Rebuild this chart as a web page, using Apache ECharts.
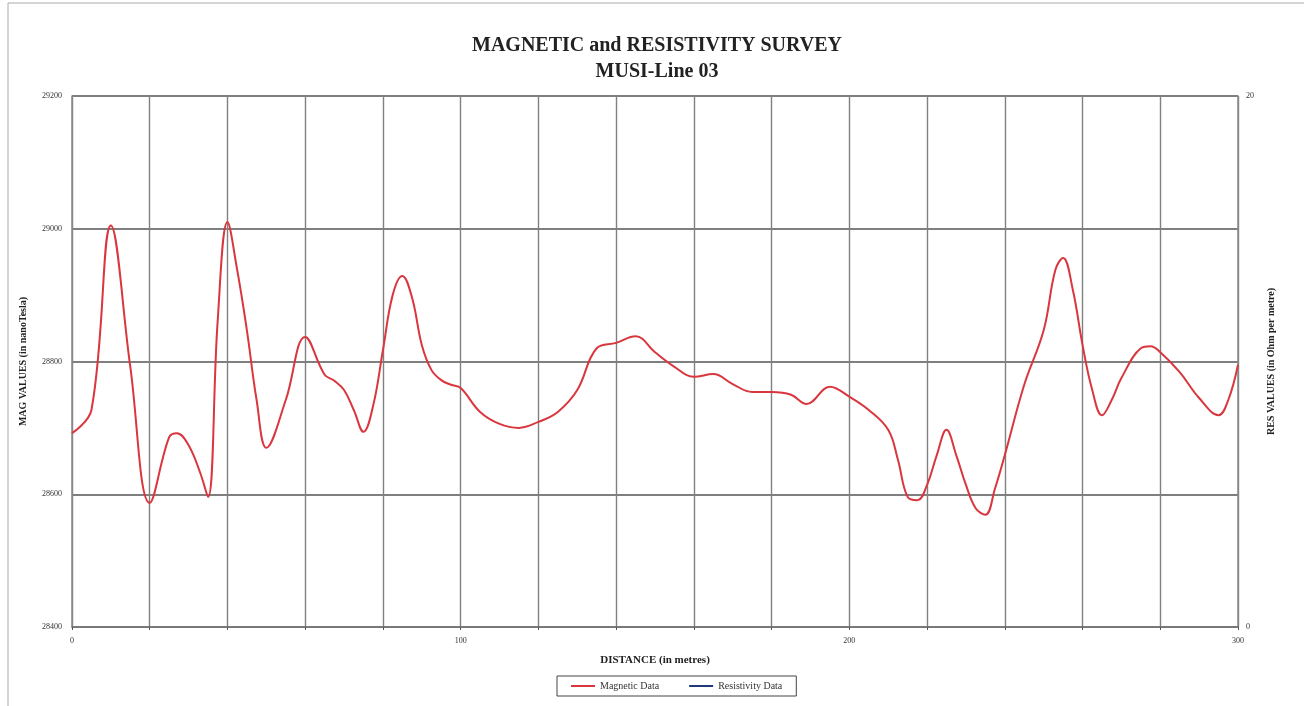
<!DOCTYPE html>
<html lang="en">
<head>
    <meta charset="UTF-8">
    <title>MUSI-Line 03</title>
    <script src="https://cdn.jsdelivr.net/npm/echarts@6.0.0/dist/echarts.min.js"></script>
    <style>
        body { margin: 0; background: #fff; }
    </style>
</head>
<body>
    <div id="chart" style="width: 1304px; height: 706px;"></div>
    <script>
        // distance along the line (m)
        const distance = [
            0, 5, 10, 15, 20, 25, 27, 30, 33, 35, 37.5, 40, 42.5, 45, 47.5, 50,
            55, 60, 65, 67.5, 70, 72.5, 75, 77.5, 80, 82.5, 85, 87.5, 90, 92.5, 95, 97.5,
            100, 105, 110, 115, 120, 125, 130, 135, 140, 145, 150, 155, 160, 165, 170,
            175, 180, 185, 189, 195, 200, 205, 210, 212.5, 215, 217.5, 220, 222.5, 225,
            227.5, 230, 232.5, 235, 237.5, 240, 245, 250, 253, 255, 257.5, 260, 262.5,
            265, 267.5, 270, 275, 277.5, 280, 285, 290, 295, 297.5, 300
        ];
        // magnetic readings (nT)
        const magValues = [
            28692, 28727, 29005, 28792, 28587, 28686, 28692, 28674, 28632, 28596, 28863, 29010, 28938, 28847, 28742, 28670,
            28742, 28837, 28780, 28771, 28757, 28727, 28694, 28734, 28817, 28900, 28929, 28896, 28825, 28787, 28772, 28765,
            28760, 28724, 28706, 28700, 28709, 28724, 28757, 28820, 28828, 28838, 28814, 28792, 28777, 28781, 28766,
            28754, 28754, 28750, 28736, 28762, 28747, 28727, 28697, 28652, 28596, 28591, 28614, 28659, 28697,
            28659, 28614, 28579, 28569, 28609, 28659, 28765, 28847, 28938, 28956, 28908, 28825, 28757,
            28719, 28742, 28775, 28820, 28823, 28814, 28784, 28745, 28719, 28742, 28795
        ];
        // no resistivity readings plotted on this line
        const resValues = [];

        const magData = distance.map((d, i) => [d, magValues[i]]);

        const myChart = echarts.init(document.getElementById('chart'));
        const serif = '"Liberation Serif", "DejaVu Serif", serif';

        let option = {
            animation: false,
            backgroundColor: '#fff',
            title: {
                text: 'MAGNETIC and RESISTIVITY SURVEY\nMUSI-Line 03',
                left: 652,
                top: 28,
                textAlign: 'center',
                textStyle: {
                    fontFamily: serif,
                    fontSize: 20,
                    fontWeight: 'bold',
                    color: '#222',
                    lineHeight: 26
                }
            },
            graphic: [{
                type: 'rect',
                shape: { x: 8, y: 3, width: 1300, height: 710 },
                style: { fill: 'none', stroke: '#aaa', lineWidth: 1 }
            }],
            grid: {
                left: 72,
                right: 66,
                top: 96,
                bottom: 79
            },
            legend: {
                left: 557,
                top: 676,
                itemWidth: 24,
                itemHeight: 2,
                itemGap: 30,
                padding: [5, 14],
                borderColor: '#444',
                borderWidth: 1,
                icon: 'rect',
                textStyle: { fontFamily: serif, fontSize: 10, color: '#333' },
                data: ['Magnetic Data', 'Resistivity Data']
            },
            xAxis: {
                type: 'value',
                min: 0,
                max: 300,
                interval: 20,
                name: 'DISTANCE (in metres)',
                nameLocation: 'middle',
                nameGap: 28,
                nameTextStyle: { fontFamily: serif, fontSize: 11, fontWeight: 'bold', color: '#222' },
                axisLine: { lineStyle: { color: '#777', width: 1.5 } },
                axisTick: { show: true, length: 3, lineStyle: { color: '#555' } },
                axisLabel: {
                    fontFamily: serif,
                    fontSize: 8,
                    color: '#333',
                    margin: 10,
                    formatter: v => (v % 100 === 0 ? String(v) : '')
                },
                splitLine: { lineStyle: { color: '#808080', width: 1.4 } }
            },
            yAxis: [{
                type: 'value',
                min: 28400,
                max: 29200,
                interval: 200,
                name: 'MAG VALUES (in nanoTesla)',
                nameLocation: 'middle',
                nameGap: 44,
                nameTextStyle: { fontFamily: serif, fontSize: 10, fontWeight: 'bold', color: '#222' },
                axisLine: { show: true, lineStyle: { color: '#888', width: 1.5 } },
                axisTick: { show: false },
                axisLabel: { fontFamily: serif, fontSize: 8, color: '#333', margin: 10, formatter: v => String(v) },
                splitLine: { lineStyle: { color: '#555', width: 1.5 } }
            }, {
                type: 'value',
                min: 0,
                max: 20,
                interval: 20,
                name: 'RES VALUES (in Ohm per metre)',
                nameLocation: 'middle',
                nameGap: 28,
                nameTextStyle: { fontFamily: serif, fontSize: 10, fontWeight: 'bold', color: '#222' },
                axisLine: { show: true, lineStyle: { color: '#888', width: 1.5 } },
                axisTick: { show: false },
                axisLabel: { fontFamily: serif, fontSize: 8, color: '#333', margin: 8 },
                splitLine: { show: false }
            }],
            series: [{
                name: 'Magnetic Data',
                type: 'line',
                data: magData,
                smooth: 0.4,
                showSymbol: false,
                color: '#d9363e',
                lineStyle: { width: 2, color: '#d9363e' }
            }, {
                name: 'Resistivity Data',
                type: 'line',
                yAxisIndex: 1,
                data: resValues,
                showSymbol: false,
                color: '#1f3a7a',
                lineStyle: { width: 2, color: '#1f3a7a' }
            }]
        };

        myChart.setOption(option);
    </script>
</body>
</html>
